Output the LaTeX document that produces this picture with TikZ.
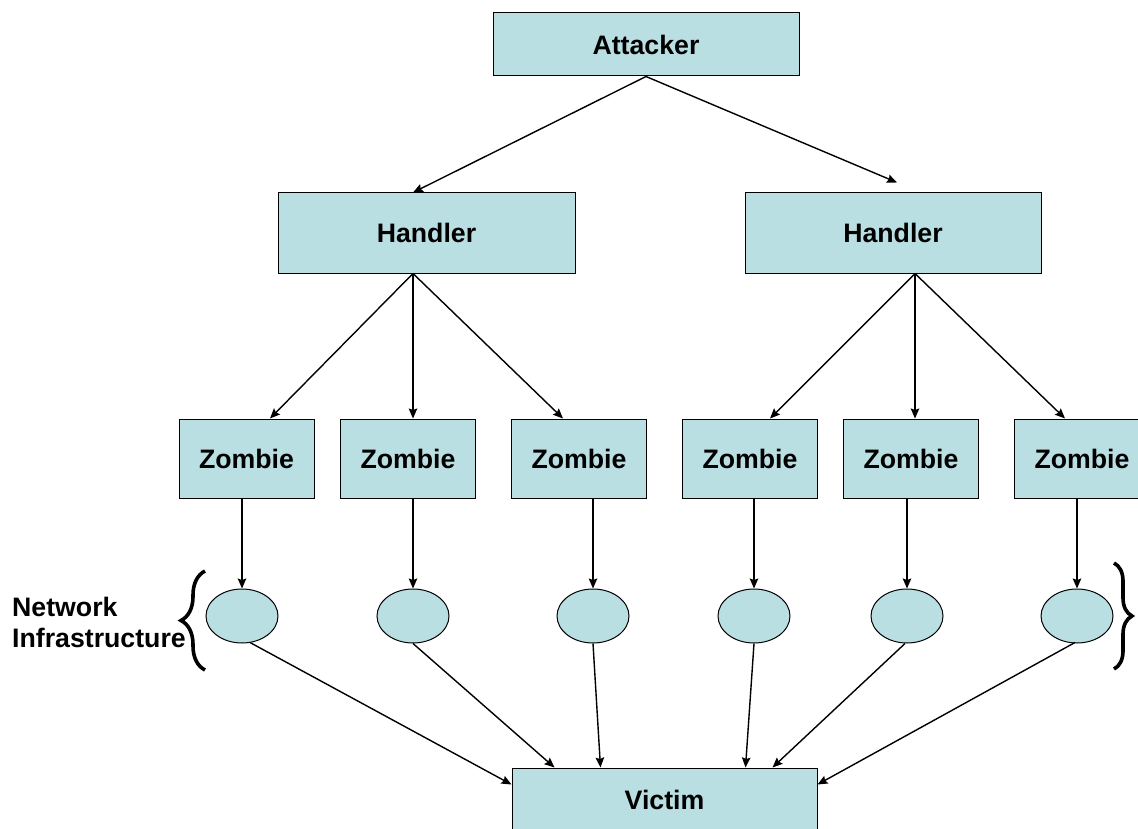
\documentclass[tikz,border=0pt]{standalone}
\usepackage{fontspec}
\setmainfont{Liberation Sans}
\usetikzlibrary{arrows.meta,decorations.pathreplacing,shapes.geometric,calc}
\definecolor{boxfill}{RGB}{185,223,227}
\begin{document}
\begin{tikzpicture}[x=1pt,y=-1pt,
  label font/.style={font=\fontsize{26.7}{31}\selectfont\bfseries},
  box/.style={draw=black, line width=1pt, fill=boxfill, inner sep=0pt, label font},
  zbox/.style={box, minimum width=135pt, minimum height=79pt},
  hub/.style={ellipse, draw=black, line width=1pt, fill=boxfill,
    minimum width=72pt, minimum height=54pt, inner sep=0pt},
  link/.style={line width=1.4pt, -{Stealth[length=10pt,width=8.5pt,inset=1.5pt]}},
  curly/.style={line width=3.6pt, decorate,
    decoration={brace, amplitude=#1}}]
\useasboundingbox (0,0) rectangle (1138,829);
\clip (0,0) rectangle (1138,829);

% attacker and handlers
\node[box, minimum width=306pt, minimum height=63pt] (att) at (646,44.5) {Attacker};
\node[box, minimum width=297pt, minimum height=80pt] (hl) at (426.5,233) {Handler};
\node[box, minimum width=296pt, minimum height=80pt] (hr) at (893,233) {Handler};

% zombies
\node[zbox] (z1) at (246.5,458.5) {Zombie};
\node[zbox] (z2) at (408,458.5) {Zombie};
\node[zbox] (z3) at (579,458.5) {Zombie};
\node[zbox] (z4) at (750,458.5) {Zombie};
\node[zbox] (z5) at (911,458.5) {Zombie};
\node[zbox] (z6) at (1082,458.5) {Zombie};

% network infrastructure hops
\node[hub] (e1) at (242,616) {};
\node[hub] (e2) at (413,616) {};
\node[hub] (e3) at (593,616) {};
\node[hub] (e4) at (754,616) {};
\node[hub] (e5) at (907,616) {};
\node[hub] (e6) at (1077,616) {};

% victim
\node[box, minimum width=305pt, minimum height=64pt] (vic) at (664.5,800) {Victim};

% side label
\node[label font, anchor=west, align=left, inner sep=0pt] (net) at (12,622)
  {Network\\Infrastructure};

% attacker -> handlers
\draw[link] (att.south) -- ([xshift=-13.5pt]hl.north);
\draw[link] (att.south) -- ([xshift=4pt,yshift=10pt]hr.north);

% handlers -> zombies
\coordinate (hlo) at ([xshift=-13.5pt]hl.south);
\coordinate (hro) at ([xshift=22pt]hr.south);
\draw[link] (hlo) -- ([xshift=23.5pt]z1.north);
\draw[link] (hlo) -- ([xshift=5pt]z2.north);
\draw[link] (hlo) -- ([xshift=-16pt]z3.north);
\draw[link] (hro) -- ([xshift=20pt]z4.north);
\draw[link] (hro) -- ([xshift=4pt]z5.north);
\draw[link] (hro) -- ([xshift=-17pt]z6.north);

% zombies -> hops
\foreach \i in {1,...,6}
  \draw[link] (z\i.south -| e\i.north) -- (e\i.north);

% hops -> victim
\draw[link] ([xshift=8pt,yshift=1pt]e1.south) -- ([yshift=-17pt]vic.north west);
\draw[link] (e2.south) -- ([xshift=43pt]vic.north west);
\draw[link] (e3.south) -- ([xshift=89pt]vic.north west);
\draw[link] (e4.south) -- ([xshift=234pt]vic.north west);
\draw[link] ([xshift=-2pt]e5.south) -- ([xshift=261pt]vic.north west);
\draw[link] ([xshift=-2pt,yshift=1pt]e6.south) -- ([yshift=-17pt]vic.north east);

% braces around the hop row
\draw[curly=24pt] (205,670) -- (205,571);
\draw[curly=18pt] (1114,563) -- (1114,669);
\end{tikzpicture}
\end{document}
